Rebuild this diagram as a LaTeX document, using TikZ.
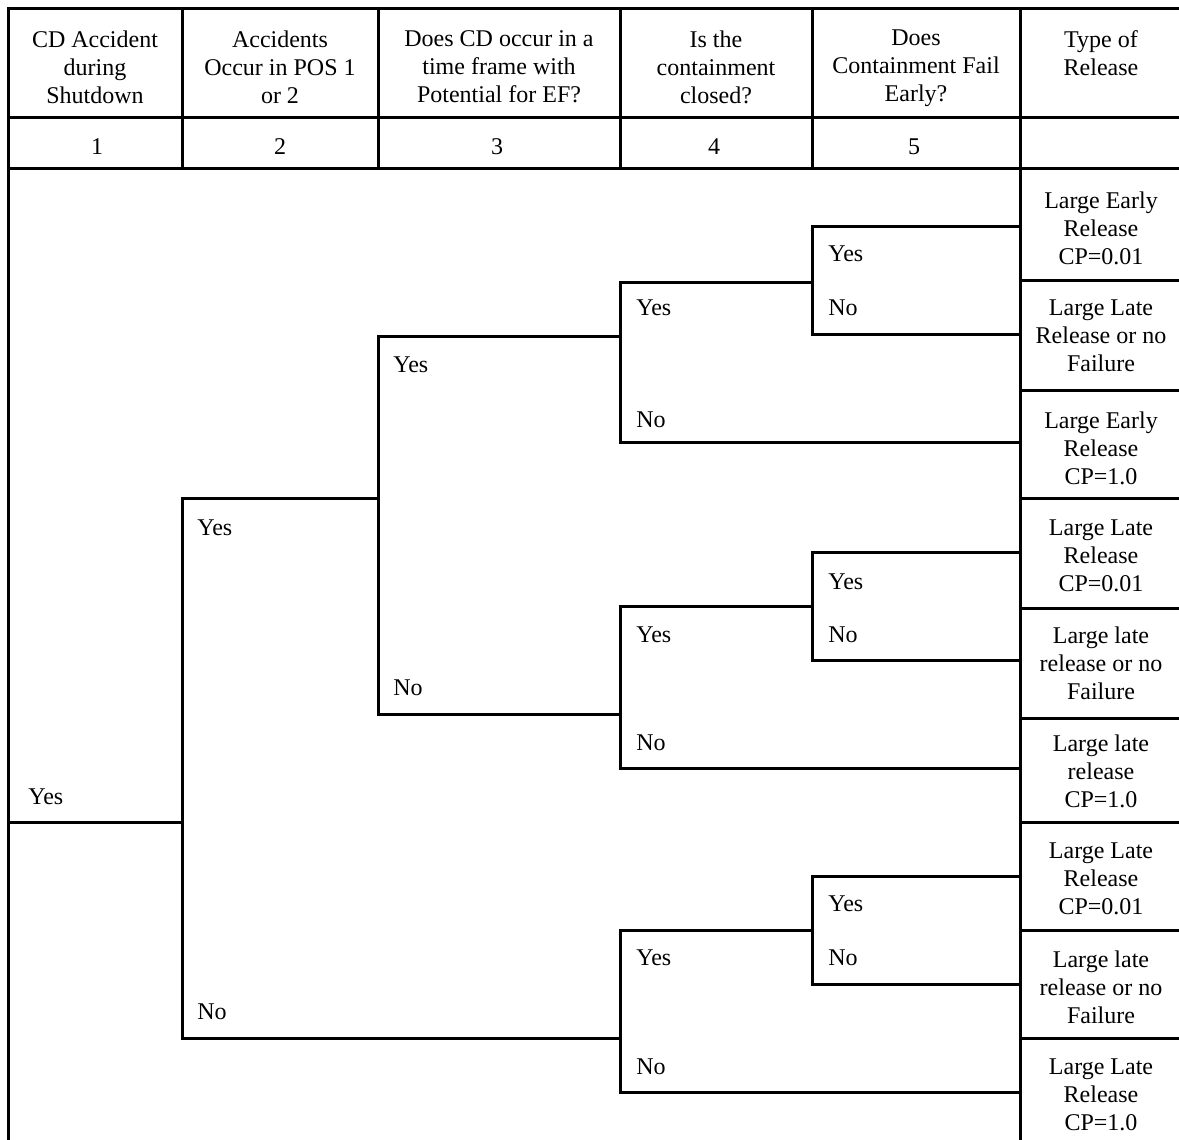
\documentclass[tikz,border=0pt]{standalone}
\usepackage{fontspec}
\setmainfont{Liberation Serif}
\usepackage{tikz}

\begin{document}
\begin{tikzpicture}[x=0.5pt, y=-0.5pt, font=\fontsize{12}{14}\selectfont]
\tikzstyle{gridline}=[line width=1.5pt, draw=black]
\tikzstyle{branch}=[line width=1.5pt, draw=black, line join=miter]
\tikzstyle{heading}=[align=center, inner sep=0pt]
\tikzstyle{answer}=[anchor=west, inner sep=0pt]
\tikzstyle{outcome}=[align=center, inner sep=0pt]

\useasboundingbox (0,0) rectangle (1179,1140);

% Table frame
\path[gridline] (8,1140) -- (8,8) -- (1179,8);
\path[gridline] (8,117) -- (1179,117);
\path[gridline] (8,168) -- (1179,168);
\foreach \x in {182,378,620,812} \path[gridline] (\x,8) -- (\x,168);
\path[gridline] (1020,8) -- (1020,1140);
\foreach \y in {280,390,498,608,718,822,930,1038} \path[gridline] (1020,\y) -- (1179,\y);

% Column headings
\node[heading] (h-accident) at (95,67) {CD Accident\\during\\Shutdown};
\node[heading] (h-pos) at (280,67) {Accidents\\Occur in POS 1\\or 2};
\node[heading] (h-ef) at (499,67) {Does CD occur in a\\time frame with\\Potential for EF?};
\node[heading] (h-closed) at (716,67) {Is the\\containment\\closed?};
\node[heading] (h-fail) at (916,68) {Does\\Containment Fail\\Early?};
\node[heading] (h-release) at (1101,53) {Type of\\Release};
\foreach \n/\x in {1/97, 2/280, 3/497, 4/714, 5/914}
  \node[heading] (num-\n) at (\x,147) {\n};

% Branch points
\coordinate (out) at (1020,168);
\coordinate (root) at (8,822);
\coordinate (f2) at (182,822);
\coordinate (f2-y) at (182,498);
\coordinate (f2-n) at (182,1038);
\coordinate (f3) at (378,498);
\coordinate (f3-y) at (378,336);
\coordinate (f3-n) at (378,714);
\coordinate (f4a) at (620,336);
\coordinate (f4a-y) at (620,282);
\coordinate (f4a-n) at (620,442);
\coordinate (f4b) at (620,714);
\coordinate (f4b-y) at (620,606);
\coordinate (f4b-n) at (620,768);
\coordinate (f4c) at (620,1038);
\coordinate (f4c-y) at (620,930);
\coordinate (f4c-n) at (620,1092);
\coordinate (f5a) at (812,282);
\coordinate (f5a-y) at (812,226);
\coordinate (f5a-n) at (812,334);
\coordinate (f5b) at (812,606);
\coordinate (f5b-y) at (812,552);
\coordinate (f5b-n) at (812,660);
\coordinate (f5c) at (812,930);
\coordinate (f5c-y) at (812,876);
\coordinate (f5c-n) at (812,984);

% Event tree
\path[branch] (root) -- (f2);
\path[branch] (f3) -- (f2-y) -- (f2-n) -- (f4c);
\path[branch] (f4a) -- (f3-y) -- (f3-n) -- (f4b);
\foreach \f/\g in {f4a/f5a, f4b/f5b, f4c/f5c}
  \path[branch] (\g) -- (\f-y) -- (\f-n) -- (\f-n -| out);
\foreach \g in {f5a, f5b, f5c}
  \path[branch] (\g-y -| out) -- (\g-y) -- (\g-n) -- (\g-n -| out);

% Branch labels
\node[answer] (l1-yes) at (28,797) {Yes};
\node[answer] (l2-yes) at (197,528) {Yes};
\node[answer] (l2-no) at (197,1012) {No};
\node[answer] (l3-yes) at (393,365) {Yes};
\node[answer] (l3-no) at (393,688) {No};
\node[answer] (l4a-yes) at (636,308) {Yes};
\node[answer] (l4a-no) at (636,420) {No};
\node[answer] (l4b-yes) at (636,635) {Yes};
\node[answer] (l4b-no) at (636,743) {No};
\node[answer] (l4c-yes) at (636,958) {Yes};
\node[answer] (l4c-no) at (636,1067) {No};
\node[answer] (l5a-yes) at (828,254) {Yes};
\node[answer] (l5a-no) at (828,308) {No};
\node[answer] (l5b-yes) at (828,582) {Yes};
\node[answer] (l5b-no) at (828,635) {No};
\node[answer] (l5c-yes) at (828,904) {Yes};
\node[answer] (l5c-no) at (828,958) {No};

% Release types
\node[outcome] (o1) at (1101,228) {Large Early\\Release\\CP=0.01};
\node[outcome] (o2) at (1101,336) {Large Late\\Release or no\\Failure};
\node[outcome] (o3) at (1101,448) {Large Early\\Release\\CP=1.0};
\node[outcome] (o4) at (1101,556) {Large Late\\Release\\CP=0.01};
\node[outcome] (o5) at (1101,663) {Large late\\release or no\\Failure};
\node[outcome] (o6) at (1101,771) {Large late\\release\\CP=1.0};
\node[outcome] (o7) at (1101,879) {Large Late\\Release\\CP=0.01};
\node[outcome] (o8) at (1101,987) {Large late\\release or no\\Failure};
\node[outcome] (o9) at (1101,1095) {Large Late\\Release\\CP=1.0};
\end{tikzpicture}
\end{document}
